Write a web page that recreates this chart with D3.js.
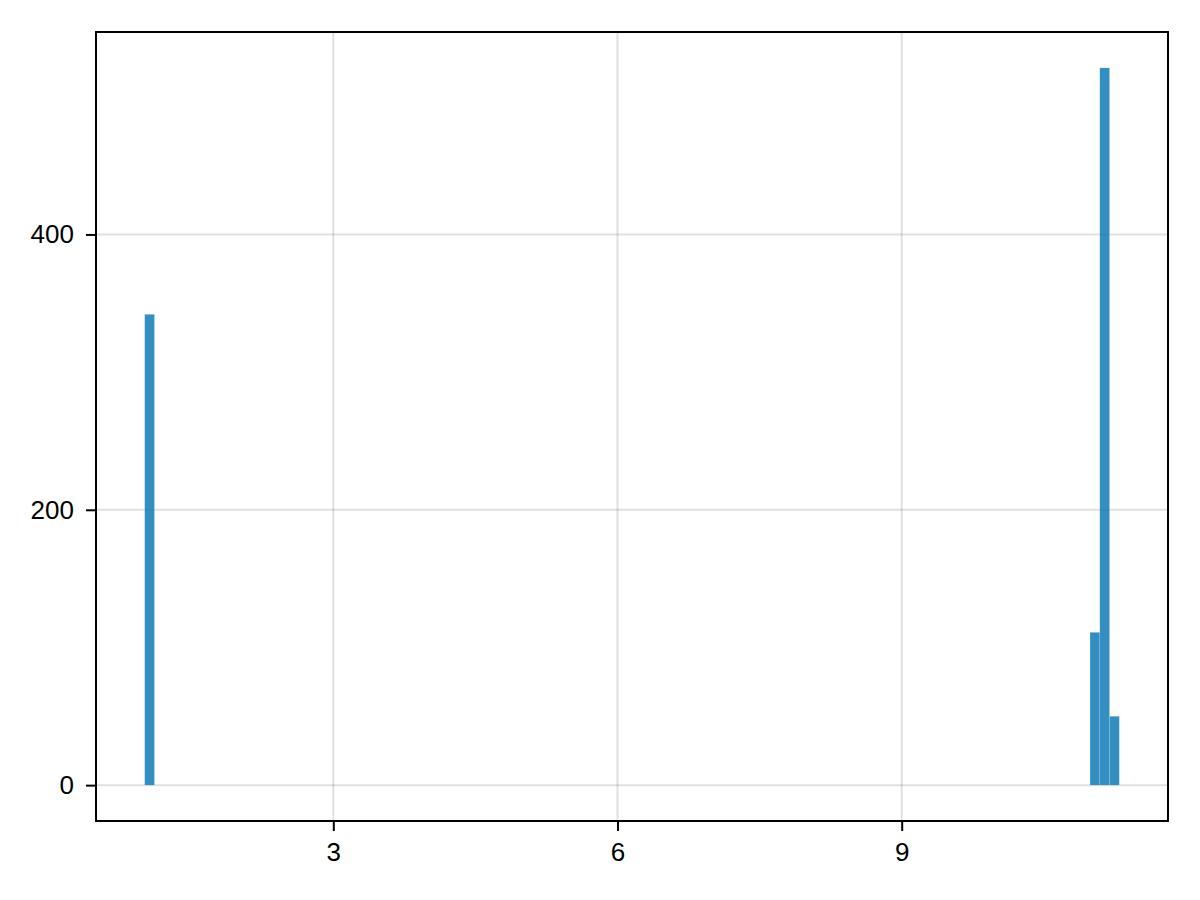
<!DOCTYPE html>
<html>
<head>
<meta charset="utf-8">
<script src="https://cdn.jsdelivr.net/npm/d3@7"></script>
<style>
body { margin:0; background:#fff; }
text { font-family: "Liberation Sans", Arial, sans-serif; font-size:26px; fill:#000; }
</style>
</head>
<body>
<svg id="chart" width="1200" height="900"></svg>
<script>
// histogram bins that hold data (left edge, right edge, count)
var binLeft  = [1.009, 10.988, 11.091, 11.194];
var binRight = [1.112, 11.091, 11.194, 11.297];
var counts   = [342, 111, 521, 50];
var xTicks = [3, 6, 9];
var yTicks = [0, 200, 400];

var bins = binLeft.map(function(d, i){ return {x0:d, x1:binRight[i], n:counts[i]}; });

var plotL = 96, plotR = 1168, plotT = 32, plotB = 821;
var svg = d3.select('#chart');

var xScale = d3.scaleLinear().domain([0.495, 11.811]).range([plotL, plotR]);
var yScale = d3.scaleLinear().domain([-26.05, 547.05]).range([plotB, plotT]);

//Grid lines
svg.append('g').selectAll('line').data(xTicks).enter().append('line')
	.attr('x1', function(d){ return xScale(d); }).attr('x2', function(d){ return xScale(d); })
	.attr('y1', plotT).attr('y2', plotB)
	.attr('stroke', 'rgba(0,0,0,0.12)').attr('stroke-width', 2);
svg.append('g').selectAll('line').data(yTicks).enter().append('line')
	.attr('x1', plotL).attr('x2', plotR)
	.attr('y1', function(d){ return yScale(d); }).attr('y2', function(d){ return yScale(d); })
	.attr('stroke', 'rgba(0,0,0,0.12)').attr('stroke-width', 2);

//Bars
svg.append('g').selectAll('rect').data(bins).enter().append('rect')
	.attr('x', function(d){ return xScale(d.x0); })
	.attr('width', function(d){ return xScale(d.x1) - xScale(d.x0); })
	.attr('y', function(d){ return yScale(d.n); })
	.attr('height', function(d){ return yScale(0) - yScale(d.n); })
	.attr('fill', 'rgba(0,114,178,0.8)')
	.attr('stroke', 'rgba(255,255,255,0.25)')
	.attr('stroke-width', 0.6);

//Axes
var xAxis = d3.axisBottom(xScale).tickValues(xTicks).tickSize(10).tickPadding(12).tickFormat(d3.format('d'));
var yAxis = d3.axisLeft(yScale).tickValues(yTicks).tickSize(10).tickPadding(12).tickFormat(d3.format('d'));

var gx = svg.append('g').attr('transform', 'translate(0,' + plotB + ')').call(xAxis);
var gy = svg.append('g').attr('transform', 'translate(' + plotL + ',0)').call(yAxis);
[gx, gy].forEach(function(g){
	g.select('.domain').remove();
	g.selectAll('.tick line').attr('stroke', '#000').attr('stroke-width', 2);
	g.selectAll('.tick text').attr('font-size', 26).attr('font-family', '"Liberation Sans", Arial, sans-serif').attr('fill', '#000');
});

//Frame
svg.append('rect')
	.attr('x', plotL).attr('y', plotT)
	.attr('width', plotR - plotL).attr('height', plotB - plotT)
	.attr('fill', 'none').attr('stroke', '#000').attr('stroke-width', 2);
</script>
</body>
</html>
